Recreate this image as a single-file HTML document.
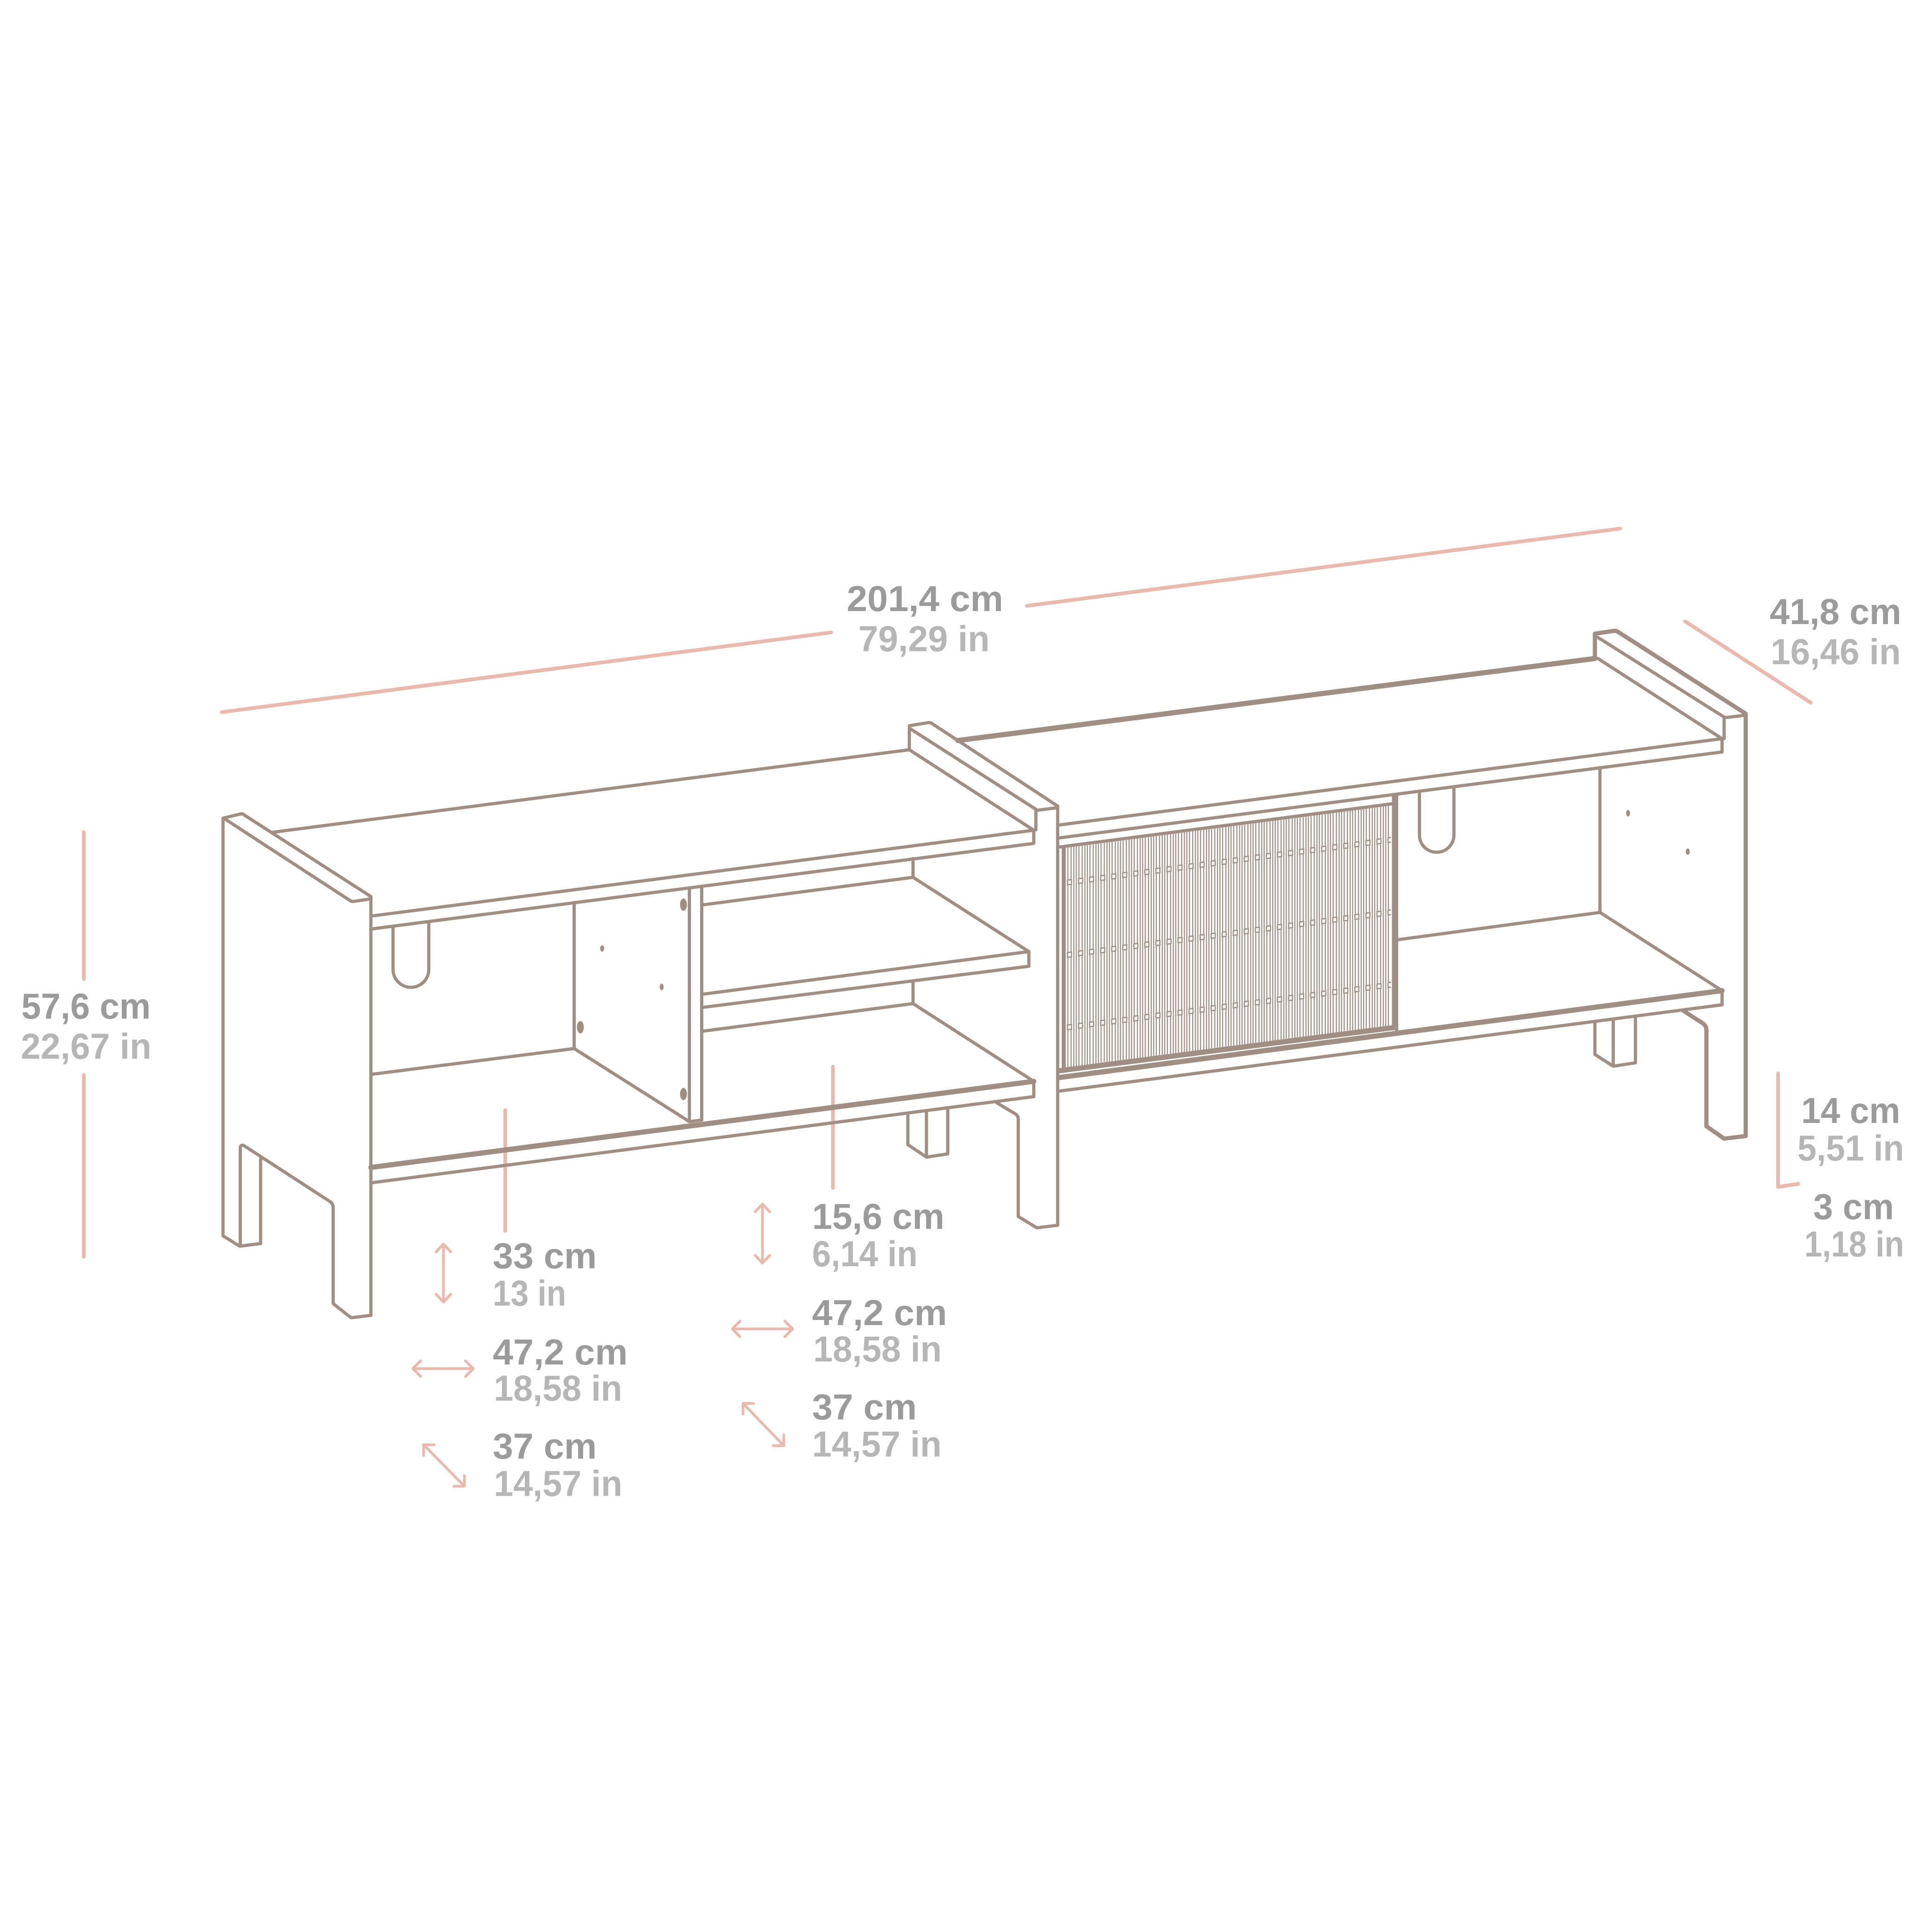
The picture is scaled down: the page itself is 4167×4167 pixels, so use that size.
<!DOCTYPE html>
<html>
<head>
<meta charset="utf-8">
<style>
  html,body{margin:0;padding:0;background:#fff;}
  svg{display:block;}
  .l{fill:none;stroke:#a08e82;stroke-width:2.6;stroke-linejoin:round;stroke-linecap:round;}
  .t{fill:none;stroke:#a08e82;stroke-width:4.2;stroke-linejoin:round;stroke-linecap:round;}
  .m{fill:none;stroke:#a08e82;stroke-width:3.4;stroke-linejoin:round;stroke-linecap:round;}
  .p{fill:none;stroke:#e9b9ac;stroke-width:3;stroke-linecap:round;stroke-linejoin:round;}
  .a{fill:none;stroke:#e9b9ac;stroke-width:2.2;stroke-linecap:round;stroke-linejoin:round;}
  .h{fill:#a08e82;}
  text{font-family:"Liberation Sans",Arial,sans-serif;font-weight:bold;font-size:29.5px;}
  .cm{fill:#9b9b9b;}
  .in{fill:#b6b6b6;}
</style>
</head>
<body>
<svg width="4167" height="4167" viewBox="0 0 1568 1568" xmlns="http://www.w3.org/2000/svg">
  <defs>
    <pattern id="sl" patternUnits="userSpaceOnUse" x="0" y="0" width="8.97" height="10">
      <rect x="0.98" y="0" width="0.9" height="10" fill="#a08e82"/>
      <rect x="2.96" y="0" width="0.9" height="10" fill="#a08e82"/>
      <rect x="5.13" y="0" width="0.9" height="10" fill="#a08e82"/>
      <rect x="7.73" y="0" width="0.9" height="10" fill="#a08e82"/>
    </pattern>
    <pattern id="sq" patternUnits="userSpaceOnUse" x="0" y="0" width="8.97" height="58.8" patternTransform="skewY(-7.52)">
      <rect x="5.3" y="5.5" width="3.2" height="3.8" fill="#fff" stroke="#a08e82" stroke-width="1"/>
    </pattern>
  </defs>

  <rect x="0" y="0" width="1568" height="1568" fill="#fff"/>

  <!-- ============ PINK DIMENSION LINES ============ -->
  <path class="p" d="M180,578 L674.5,513.3"/>
  <path class="p" d="M833.5,491.7 L1315,429"/>
  <path class="p" d="M1367.6,504.3 L1469.6,570.3"/>
  <path class="p" d="M68,675.3 V794.5"/>
  <path class="p" d="M68,872.5 V1020"/>
  <path class="p" d="M1443.1,871.2 V963.3 L1459.4,960.8"/>
  <path class="p" d="M410,901 V999"/>
  <path class="p" d="M676,865.7 V964"/>

  <!-- small arrows -->
  <path class="a" d="M354,1016 L359.9,1009.7 L365.8,1016 M359.9,1009.7 V1056.7 M354,1050.4 L359.9,1056.7 L365.8,1050.4"/>
  <path class="a" d="M341.4,1104.5 L335.1,1110.8 L341.4,1117.1 M335.1,1110.8 H384.1 M377.8,1104.5 L384.1,1110.8 L377.8,1117.1"/>
  <path class="a" d="M343.8,1172.6 L376.9,1206.2 M352.4,1172.6 H343.8 V1181.2 M368.3,1206.2 H376.9 V1197.6"/>
  <path class="a" d="M612.9,983.5 L618.8,977.2 L624.7,983.5 M618.8,977.2 V1025.1 M612.9,1018.8 L618.8,1025.1 L624.7,1018.8"/>
  <path class="a" d="M600.6,1072.2 L594.3,1078.5 L600.6,1084.8 M594.3,1078.5 H643.3 M637,1072.2 L643.3,1078.5 L637,1084.8"/>
  <path class="a" d="M603,1139 L636.1,1173.3 M611.6,1139 H603 V1147.6 M627.5,1173.3 H636.1 V1164.7"/>

  <!-- ============ LEFT MODULE ============ -->
  <path class="l" d="M181,1003 V664 L195.7,660.5 Q197,660.3 198,661.3 L301,727.6 V1067.5"/>
  <path class="l" d="M181.5,664 L284,730.8 Q285.5,731.8 287,731.6 L301,729.5"/>
  <path class="l" d="M181,1003 L194.5,1011.4 L211.5,1009.3 V940.5"/>
  <path class="l" d="M195,1011 V932 Q195,928.5 198,929.8 L268,975.3 Q270.4,977 270.4,980 V1058 L285,1069.5 L301,1067.5"/>

  <path class="l" d="M221,675.5 L738,608.5"/>
  <path class="l" d="M738,608.5 L839,673.8 V684.5"/>
  <path class="l" d="M301,743.5 L839,673.8"/>
  <path class="l" d="M301,754 L839,684.5"/>

  <path class="l" d="M319,751.7 V786.8 A14.5,14.5 0 0 0 348,786.8 V748"/>

  <path class="l" d="M301,872 L466,851"/>
  <path class="l" d="M466,732.5 V851 L559.5,910.3"/>
  <path class="l" d="M559.5,720.5 V910.3 L569.5,909 V719.2"/>
  <ellipse class="h" cx="554.7" cy="734.2" rx="2.8" ry="5"/>
  <ellipse class="h" cx="471" cy="833.7" rx="2.8" ry="5"/>
  <ellipse class="h" cx="554.7" cy="887.9" rx="2.8" ry="5"/>
  <ellipse class="h" cx="488.7" cy="769.8" rx="1.6" ry="2.6"/>
  <ellipse class="h" cx="537" cy="801" rx="1.6" ry="2.6"/>

  <path class="l" d="M569.5,734.5 L741,712 L835,772.3 V784.2"/>
  <path class="l" d="M569.5,807 L835,772.3"/>
  <path class="l" d="M569.5,817.7 L835,784.2"/>
  <path class="l" d="M741,696.8 V712"/>
  <path class="l" d="M741,796.1 V814.5"/>
  <path class="l" d="M569.5,837 L741,814.5 L839,877.6"/>

  <path class="t" d="M301,947.5 L839,877.6"/>
  <path class="l" d="M839,877.6 V890"/>
  <path class="l" d="M301,960 L839,890"/>

  <path class="l" d="M736.8,903.5 V929 L751.9,939.1 L769.2,936.5 V900.9"/>
  <path class="l" d="M751.9,939 V901.6"/>

  <!-- ============ MIDDLE PANEL ============ -->
  <path class="l" d="M738,608.5 V589 L753.5,586.5 Q755,586.3 756.2,587.1 L858.4,654.2 V994.4"/>
  <path class="l" d="M739,591.6 L840.7,656.8 V673.5"/>
  <path class="l" d="M840.7,656.8 L842,657.6 L856.6,655.7"/>
  <path class="l" d="M809,895 L824,904 Q826.4,905.5 826.4,908 V987.3 L841.5,996.5 L858.4,994.4"/>

  <!-- ============ RIGHT MODULE ============ -->
  <path class="t" d="M777.4,601 L1294.4,534.4"/>
  <path class="m" d="M1294.4,534.4 V514.3 L1310,512 Q1311.8,511.8 1313,512.7 L1416.8,579.2 V922"/>
  <path class="l" d="M1296.8,517.3 L1399.3,582 V599.5"/>
  <path class="l" d="M1399.3,582 L1400.5,582.4 L1416,580.5"/>
  <path class="l" d="M1296.8,534.4 L1397.6,599.5 V610.3"/>
  <path class="l" d="M860,669.5 L1397.6,599.5"/>
  <path class="l" d="M860,680 L1397.6,610.3"/>

  <polygon points="862,688.5 1129,653.8 1129,834.2 862,868.3" fill="url(#sl)"/>
  <polygon points="862,688.5 1129,653.8 1129,834.2 862,868.3" fill="url(#sq)"/>
  <path class="l" d="M860,687.4 L1131,652.2"/>
  <path class="l" d="M863,688 V868"/>
  <path class="l" d="M1131,645 V835"/>
  <path class="l" d="M1133.5,644.5 V838.6"/>
  <path class="t" d="M860,869 L1131,834"/>

  <path class="l" d="M1152,642 V677.7 A14,14 0 0 0 1180,677.7 V638.4"/>
  <path class="l" d="M1298.5,623 V740.5 L1397.6,804"/>
  <path class="l" d="M1133.5,762.8 L1298.5,740.5"/>
  <ellipse class="h" cx="1321.3" cy="660" rx="1.6" ry="2.6"/>
  <ellipse class="h" cx="1369.8" cy="691.2" rx="1.6" ry="2.6"/>

  <path class="t" d="M860,874.5 L1397.6,804"/>
  <path class="l" d="M1397.6,804 V815.5"/>
  <path class="l" d="M860,885.5 L1397.6,815.5"/>

  <path class="l" d="M1294.4,829 V855.8 L1309.3,865.3 L1327.3,862.6 V825"/>
  <path class="l" d="M1309.3,865 V827"/>
  <path class="m" d="M1366.4,820.5 L1382,830.5 Q1384.9,832.5 1384.9,836 V914.1 L1399.3,924.1 L1416.8,922"/>

  <!-- ============ TEXT ============ -->
  <text class="cm" x="687.2" y="496" textLength="127" lengthAdjust="spacingAndGlyphs">201,4 cm</text>
  <text class="in" x="696.6" y="528.5" textLength="106.6" lengthAdjust="spacingAndGlyphs">79,29 in</text>

  <text class="cm" x="1436.3" y="506.4" textLength="106.8" lengthAdjust="spacingAndGlyphs">41,8 cm</text>
  <text class="in" x="1437" y="539.1" textLength="105.7" lengthAdjust="spacingAndGlyphs">16,46 in</text>

  <text class="cm" x="17.3" y="826.8" textLength="105" lengthAdjust="spacingAndGlyphs">57,6 cm</text>
  <text class="in" x="16.9" y="859.3" textLength="106" lengthAdjust="spacingAndGlyphs">22,67 in</text>

  <text class="cm" x="1461.9" y="911.3" textLength="80.3" lengthAdjust="spacingAndGlyphs">14 cm</text>
  <text class="in" x="1458.8" y="941.8" textLength="86.5" lengthAdjust="spacingAndGlyphs">5,51 in</text>
  <text class="cm" x="1471.6" y="989.4" textLength="65.5" lengthAdjust="spacingAndGlyphs">3 cm</text>
  <text class="in" x="1464.4" y="1019.8" textLength="80.9" lengthAdjust="spacingAndGlyphs">1,18 in</text>

  <text class="cm" x="399.9" y="1029.3" textLength="84.4" lengthAdjust="spacingAndGlyphs">33 cm</text>
  <text class="in" x="399.9" y="1059.6" textLength="59.6" lengthAdjust="spacingAndGlyphs">13 in</text>
  <text class="cm" x="399.9" y="1107.4" textLength="109.5" lengthAdjust="spacingAndGlyphs">47,2 cm</text>
  <text class="in" x="400.8" y="1136.8" textLength="104.2" lengthAdjust="spacingAndGlyphs">18,58 in</text>
  <text class="cm" x="399.9" y="1183.9" textLength="84.4" lengthAdjust="spacingAndGlyphs">37 cm</text>
  <text class="in" x="400.8" y="1214.1" textLength="104.3" lengthAdjust="spacingAndGlyphs">14,57 in</text>

  <text class="cm" x="659.1" y="997.4" textLength="107.4" lengthAdjust="spacingAndGlyphs">15,6 cm</text>
  <text class="in" x="659.1" y="1027.6" textLength="85.6" lengthAdjust="spacingAndGlyphs">6,14 in</text>
  <text class="cm" x="659.1" y="1075.5" textLength="109.5" lengthAdjust="spacingAndGlyphs">47,2 cm</text>
  <text class="in" x="660" y="1104.9" textLength="104.3" lengthAdjust="spacingAndGlyphs">18,58 in</text>
  <text class="cm" x="659.1" y="1152" textLength="85" lengthAdjust="spacingAndGlyphs">37 cm</text>
  <text class="in" x="659.1" y="1182.2" textLength="105.1" lengthAdjust="spacingAndGlyphs">14,57 in</text>
</svg>
</body>
</html>
